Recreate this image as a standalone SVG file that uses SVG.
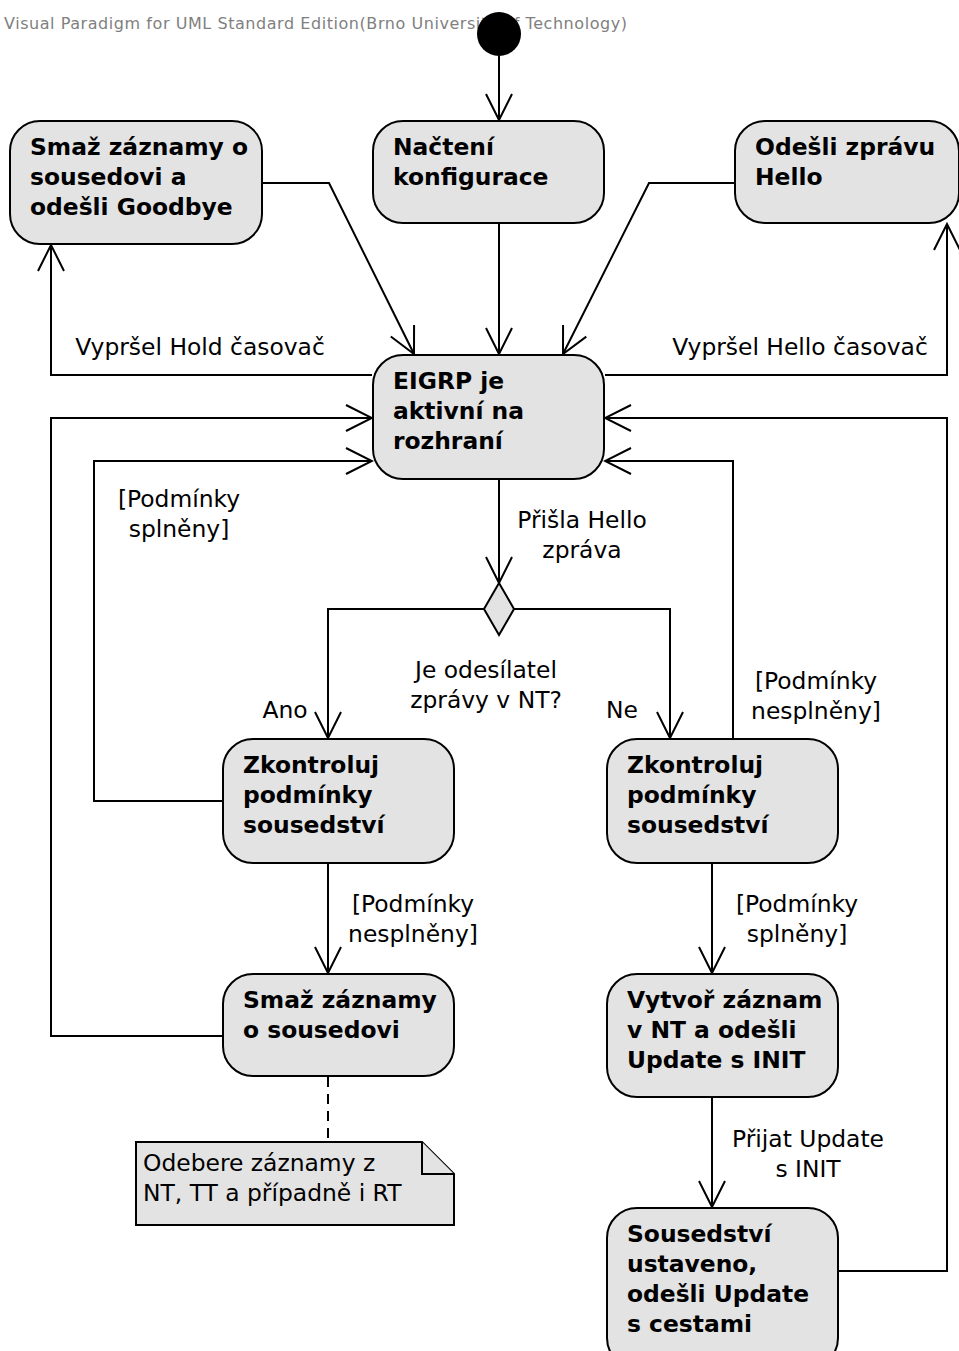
<svg xmlns="http://www.w3.org/2000/svg" width="959" height="1351" viewBox="0 0 959 1351">
  <style>
    .node rect { fill: #e3e3e3; stroke: #000; stroke-width: 2; }
    .node text { font-family: "DejaVu Sans", sans-serif; font-weight: bold; font-size: 23.4px; fill: #000; }
    .conn { fill: none; stroke: #000; stroke-width: 2; }
    .flow { marker-end: url(#arr); }
    .lbl { font-family: "DejaVu Sans", sans-serif; font-size: 23.4px; fill: #000; text-anchor: middle; }
    .note path { fill: #e3e3e3; stroke: #000; stroke-width: 2; stroke-linejoin: miter; }
    .note text { font-family: "DejaVu Sans", sans-serif; font-size: 23.4px; fill: #000; }
  </style>
  <defs>
    <marker id="arr" viewBox="-28 -15 30 30" refX="0" refY="0" markerWidth="30" markerHeight="30" markerUnits="userSpaceOnUse" orient="auto">
      <path d="M-26,-13 L0,0 L-26,13" fill="none" stroke="#000" stroke-width="2"/>
    </marker>
  </defs>
  <rect width="959" height="1351" fill="#fff"/>

  <text x="4" y="29" font-family="DejaVu Sans, sans-serif" font-size="16" fill="#808080" textLength="623" lengthAdjust="spacing">Visual Paradigm for UML Standard Edition(Brno University of Technology)</text>

  <!-- connectors -->
  <g id="connectors">
    <path class="conn flow" d="M499,56 V120"/>
    <path class="conn flow" d="M263,183 H329 L414,354"/>
    <path class="conn flow" d="M499,224 V354"/>
    <path class="conn flow" d="M734,183 H649 L563,354"/>
    <path class="conn flow" d="M372,375 H51 V245"/>
    <path class="conn flow" d="M605,375 H947 V224"/>
    <path class="conn flow" d="M222,1036 H51 V418 H372"/>
    <path class="conn flow" d="M222,801 H94 V461 H372"/>
    <path class="conn flow" d="M733,738 V461 H605"/>
    <path class="conn flow" d="M839,1271 H947 V418 H605"/>
    <path class="conn flow" d="M499,480 V583"/>
    <path class="conn flow" d="M484,609 H328 V738"/>
    <path class="conn flow" d="M514,609 H670 V738"/>
    <path class="conn flow" d="M328,864 V973"/>
    <path class="conn flow" d="M712,864 V973"/>
    <path class="conn flow" d="M712,1098 V1207"/>
    <path class="conn" d="M328,1077 V1142" stroke-dasharray="10,7"/>

    <text class="lbl" x="200" y="355">Vypršel Hold časovač</text>
    <text class="lbl" x="800" y="355">Vypršel Hello časovač</text>
    <text class="lbl" x="179" y="507">[Podmínky</text>
    <text class="lbl" x="179" y="537">splněny]</text>
    <text class="lbl" x="816" y="689">[Podmínky</text>
    <text class="lbl" x="816" y="719">nesplněny]</text>
    <text class="lbl" x="582" y="528">Přišla Hello</text>
    <text class="lbl" x="582" y="558">zpráva</text>
    <text class="lbl" x="486" y="678">Je odesílatel</text>
    <text class="lbl" x="486" y="708">zprávy v NT?</text>
    <text class="lbl" x="285" y="718">Ano</text>
    <text class="lbl" x="622" y="718">Ne</text>
    <text class="lbl" x="413" y="912">[Podmínky</text>
    <text class="lbl" x="413" y="942">nesplněny]</text>
    <text class="lbl" x="797" y="912">[Podmínky</text>
    <text class="lbl" x="797" y="942">splněny]</text>
    <text class="lbl" x="808" y="1147">Přijat Update</text>
    <text class="lbl" x="808" y="1177">s INIT</text>
  </g>

  <!-- initial node -->
  <g id="start">
    <circle cx="499" cy="34" r="22" fill="#000"/>
  </g>

  <g id="goodbye" class="node">
    <rect x="10" y="121" width="252" height="123" rx="30"/>
    <text x="30" y="155">Smaž záznamy o</text>
    <text x="30" y="185">sousedovi a</text>
    <text x="30" y="215">odešli Goodbye</text>
  </g>

  <g id="config" class="node">
    <rect x="373" y="121" width="231" height="102" rx="30"/>
    <text x="393" y="155">Načtení</text>
    <text x="393" y="185">konfigurace</text>
  </g>

  <g id="hello" class="node">
    <rect x="735" y="121" width="224" height="102" rx="30"/>
    <text x="755" y="155">Odešli zprávu</text>
    <text x="755" y="185">Hello</text>
  </g>

  <g id="active" class="node">
    <rect x="373" y="355" width="231" height="124" rx="30"/>
    <text x="393" y="389">EIGRP je</text>
    <text x="393" y="419">aktivní na</text>
    <text x="393" y="449">rozhraní</text>
  </g>

  <g id="decision">
    <path d="M499,583 L514,609 L499,635 L484,609 Z" fill="#e3e3e3" stroke="#000" stroke-width="2"/>
  </g>

  <g id="check-known" class="node">
    <rect x="223" y="739" width="231" height="124" rx="30"/>
    <text x="243" y="773">Zkontroluj</text>
    <text x="243" y="803">podmínky</text>
    <text x="243" y="833">sousedství</text>
  </g>

  <g id="check-new" class="node">
    <rect x="607" y="739" width="231" height="124" rx="30"/>
    <text x="627" y="773">Zkontroluj</text>
    <text x="627" y="803">podmínky</text>
    <text x="627" y="833">sousedství</text>
  </g>

  <g id="remove" class="node">
    <rect x="223" y="974" width="231" height="102" rx="30"/>
    <text x="243" y="1008">Smaž záznamy</text>
    <text x="243" y="1038">o sousedovi</text>
  </g>

  <g id="create" class="node">
    <rect x="607" y="974" width="231" height="123" rx="30"/>
    <text x="627" y="1008">Vytvoř záznam</text>
    <text x="627" y="1038">v NT a odešli</text>
    <text x="627" y="1068">Update s INIT</text>
  </g>

  <g id="established" class="node">
    <rect x="607" y="1208" width="231" height="160" rx="30"/>
    <text x="627" y="1242">Sousedství</text>
    <text x="627" y="1272">ustaveno,</text>
    <text x="627" y="1302">odešli Update</text>
    <text x="627" y="1332">s cestami</text>
  </g>

  <g id="remove-note" class="note">
    <path d="M136,1142 H422 L454,1174 V1225 H136 Z"/>
    <path d="M422,1142 V1174 H454" fill="none"/>
    <text x="143" y="1171">Odebere záznamy z</text>
    <text x="143" y="1201">NT, TT a případně i RT</text>
  </g>
</svg>
